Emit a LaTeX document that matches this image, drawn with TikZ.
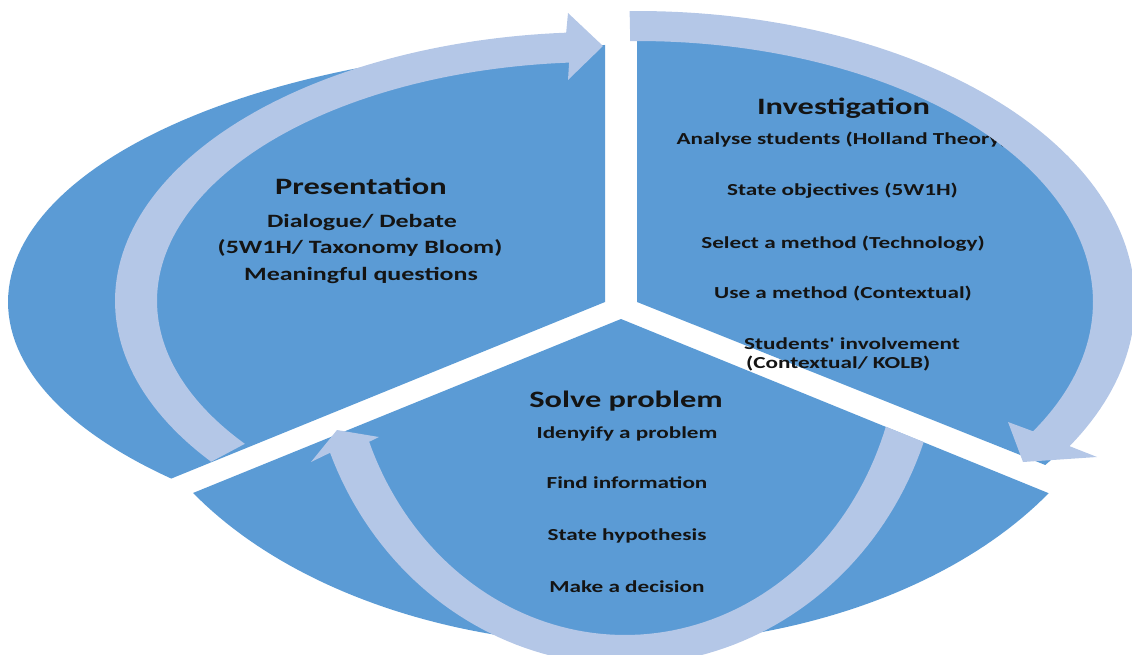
\documentclass[tikz,border=0pt]{standalone}
\usepackage{fontspec}
\newfontfamily\carl[FakeStretch=1.38]{Carlito}
\definecolor{secblue}{HTML}{5B9BD5}
\definecolor{bandblue}{HTML}{B4C7E7}
\definecolor{txt}{HTML}{141414}
\begin{document}
\begin{tikzpicture}[x=1pt,y=-1pt,
  sector/.style={fill=secblue},
  band/.style={fill=bandblue},
  ttl/.style={font=\carl\bfseries\fontsize{23.5}{28}\selectfont, text=txt, inner sep=0pt, anchor=base},
  itemL/.style={font=\carl\bfseries\fontsize{18.8}{22}\selectfont, text=txt, inner sep=0pt, anchor=base},
  itemS/.style={font=\carl\bfseries\fontsize{16.8}{20}\selectfont, text=txt, inner sep=0pt, anchor=base}]

\path[use as bounding box] (0,0) rectangle (1132,655);

% three exploded pie segments
\fill[sector] (605,302) -- (605,45)
  -- plot[domain=-90:-223.4, samples=90, variable=\t] ({605+597*cos(\t)},{302+257*sin(\t)}) -- cycle;
\fill[sector] (637,302) -- (637,15)
  -- plot[domain=-90:34.6, samples=90, variable=\t] ({637+496*cos(\t)},{302+287*sin(\t)}) -- cycle;
\fill[sector] (621,319) -- (193,493)
  -- plot[domain=147.7:32.3, samples=90, variable=\t] ({621+506*cos(\t)},{319+326*sin(\t)}) -- cycle;

% Presentation
\node[ttl] (p-title) at (361,195) {Presentation};
\node[itemL] (p-1) at (362,227) {Dialogue/ Debate};
\node[itemL] (p-2) at (360,253) {(5W1H/ Taxonomy Bloom)};
\node[itemL] (p-3) at (361,280) {Meaningful questions};

% Investigation
\node[ttl] (i-title) at (843.5,115) {Investigation};
\node[itemS] (i-1) at (842,144.5) {Analyse students (Holland Theory)};
\node[itemS] (i-2) at (842.5,196) {State objectives (5W1H)};
\node[itemS] (i-3) at (843,248) {Select a method (Technology)};
\node[itemS] (i-4) at (843,298) {Use a method (Contextual)};
\node[itemS, anchor=base west] (i-5) at (744,349) {Students' involvement};
\node[itemS, anchor=base west] (i-6) at (746,368) {(Contextual/ KOLB)};

% Solve problem
\node[ttl] (s-title) at (626,407) {Solve problem};
\node[itemS] (s-1) at (627,438) {Idenyify a problem};
\node[itemS] (s-2) at (627,488) {Find information};
\node[itemS] (s-3) at (627,540) {State hypothesis};
\node[itemS] (s-4) at (627,592) {Make a decision};

% cycle arrows
\fill[band] plot[domain=143.3:266, samples=90, variable=\t] ({600+485*cos(\t)},{301+269*sin(\t)})
  -- (568,13) -- (603,46) -- (568,80)
  -- plot[domain=266:143.3, samples=90, variable=\t] ({600+443*cos(\t)},{301+239*sin(\t)}) -- cycle;

\fill[band] plot[domain=-90.85:29.7, samples=90, variable=\t] ({637+498*cos(\t)},{302+291*sin(\t)})
  -- (1097,457) -- (1023,462) -- (1008,422)
  -- plot[domain=29.7:-90.85, samples=90, variable=\t] ({637+456*cos(\t)},{302+261*sin(\t)}) -- cycle;

\begin{scope}
  \clip (621,319) -- (1140,530) -- (1140,700) -- (-10,700) -- (-10,-10) -- (621,-10) -- cycle;
  \fill[band] plot[domain=10:158.5, samples=90, variable=\t] ({625+317*cos(\t)},{330+335*sin(\t)})
    -- (311,462) -- (337,430) -- (379,437)
    -- plot[domain=158.5:10, samples=90, variable=\t] ({625+275*cos(\t)},{330+305*sin(\t)}) -- cycle;
\end{scope}
\end{tikzpicture}
\end{document}
